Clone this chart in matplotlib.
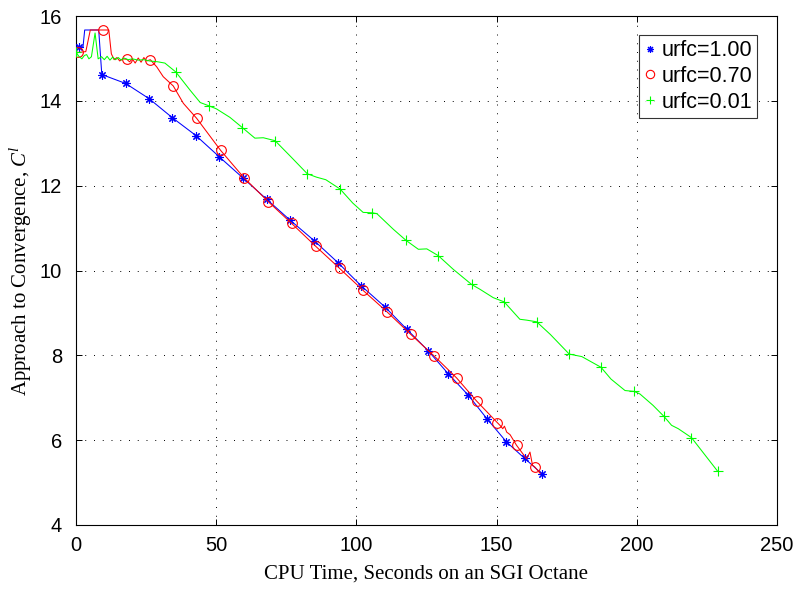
import numpy as np
import matplotlib
matplotlib.use('Agg')
import matplotlib.pyplot as plt
from matplotlib.lines import Line2D

plt.rcParams['font.family'] = 'Liberation Sans'
plt.rcParams['mathtext.fontset'] = 'custom'
plt.rcParams['mathtext.rm'] = 'Liberation Serif'
plt.rcParams['mathtext.it'] = 'Liberation Serif:italic'

# urfc = 1.00
t_a = [0, 1.0, 2.5, 3.1, 8.1, 9.2, 17.7, 26.1, 34.4, 42.8, 51.1, 59.4, 68.0, 76.3,
       85.0, 93.5, 101.7, 110.2, 117.9, 125.7, 132.7, 139.9, 146.5, 153.5, 160.0, 166.3]
c_a = [15.27, 15.27, 15.27, 15.67, 15.67, 14.62, 14.41, 14.05, 13.60, 13.18, 12.68, 12.19,
       11.68, 11.19, 10.70, 10.18, 9.64, 9.14, 8.62, 8.10, 7.57, 7.06, 6.51, 5.96, 5.57, 5.20]
mk_a = [1.0, 9.2, 17.7, 26.1, 34.4, 42.8, 51.1, 59.4, 68.0, 76.3, 85.0, 93.5, 101.7,
        110.2, 117.9, 125.7, 132.7, 139.9, 146.5, 153.5, 160.0, 166.3]

# urfc = 0.70
t_b = [0, 0.7, 3.5, 5.1, 9.5, 11.7, 12.6, 13.6, 14.6, 15.6, 16.6, 18.1, 19.1, 20.1,
       21.1, 22.2, 23.2, 24.2, 25.2, 26.5, 28.8, 31.1, 34.7, 38.3, 43.0, 51.6, 60.0,
       68.6, 76.9, 85.5, 94.0, 102.4, 111.0, 119.3, 127.8, 135.7, 142.9, 150.3, 151.2,
       152.2, 152.8, 153.6, 154.8, 157.1, 160.7, 161.9, 162.8, 163.6, 165.5]
c_b = [15.16, 15.14, 15.16, 15.67, 15.67, 15.67, 15.11, 14.97, 15.02, 14.94, 14.99,
       14.98, 14.92, 14.99, 14.89, 15.01, 14.91, 15.02, 14.94, 14.97, 14.80, 14.57,
       14.35, 13.94, 13.59, 12.83, 12.18, 11.62, 11.11, 10.57, 10.05, 9.53, 9.02, 8.50,
       7.98, 7.47, 6.92, 6.41, 6.35, 6.27, 6.33, 6.19, 6.13, 5.88, 5.56, 5.72, 5.41,
       5.37, 5.22]
mk_b = [0.7, 9.5, 18.1, 26.5, 34.7, 43.0, 51.6, 60.0, 68.6, 76.9, 85.5, 94.0, 102.4,
        111.0, 119.3, 127.8, 135.7, 142.9, 150.3, 157.1, 163.6]

# urfc = 0.01
t_c = [0, 1, 2.1, 3, 3.8, 4.6, 5.5, 6.8, 7.9, 9.1, 10.1, 11.1, 12.1, 13.1, 14.1, 15.1,
       16.1, 17.1, 18.6, 20.1, 22.2, 24.2, 26.2, 29.2, 31.7, 35.6, 40.7, 44.3, 47.5,
       50.1, 54.9, 59.3, 63.8, 66.8, 71.0, 76.5, 82.5, 85.8, 89.1, 94.2, 98.7, 102.4,
       105.7, 107.3, 113.2, 117.7, 122.1, 125.1, 129.2, 134.5, 141.1, 144.0, 148.8,
       152.7, 158.3, 160.7, 164.3, 169.2, 175.9, 180.4, 187.2, 190.8, 195.8, 199.0,
       201.1, 205.8, 209.7, 212.4, 214.8, 219.5, 228.8]
c_c = [15.15, 15.05, 14.99, 15.07, 15.09, 14.99, 15.04, 15.60, 14.99, 15.04, 14.97,
       15.05, 14.96, 15.03, 14.97, 15.02, 14.96, 15.01, 14.97, 14.99, 14.96, 14.97, 14.94,
       14.92, 14.89, 14.68, 14.25, 13.96, 13.88, 13.81, 13.61, 13.37, 13.12, 13.13,
       13.06, 12.69, 12.28, 12.20, 12.14, 11.92, 11.59, 11.37, 11.36, 11.34, 10.97,
       10.71, 10.50, 10.51, 10.35, 10.03, 9.67, 9.56, 9.36, 9.26, 8.85, 8.83, 8.79,
       8.49, 8.03, 7.97, 7.72, 7.44, 7.17, 7.15, 7.09, 6.82, 6.56, 6.35, 6.27, 6.06, 5.27]
mk_c = [0, 35.6, 47.5, 59.3, 71.0, 82.5, 94.2, 105.7, 117.7, 129.2, 141.1, 152.7,
        164.3, 175.9, 187.2, 199.0, 209.7, 219.5, 228.8]

labels = ['urfc=1.00', 'urfc=0.70', 'urfc=0.01']

fig = plt.figure(figsize=(7.98, 5.90), dpi=100)
ax = fig.add_axes([76/798, 65/590, 701/798, 509/590])

asterisk = (8, 2, 0)
series = [(t_a, c_a, mk_a, 'b', asterisk, 6),
          (t_b, c_b, mk_b, 'r', 'o', 7),
          (t_c, c_c, mk_c, (0, 1, 0), '+', 7)]
handles = []
for (t, c, mk, col, m, ms), lab in zip(series, labels):
    idx = list(np.where(np.isin(t, mk))[0])
    ax.plot(t, c, color=col, lw=0.75, marker=m, markevery=idx, ms=ms,
            mfc='none', mec=col, mew=0.8, zorder=3)
    handles.append(Line2D([], [], ls='none', marker=m, color=col, mfc='none',
                          mec=col, ms=ms - 1, mew=0.8, label=lab))

ax.set_xlim(0, 250)
ax.set_ylim(4, 16)
ax.set_xticks(np.arange(0, 251, 50))
ax.set_yticks(np.arange(4, 17, 2))
ax.grid(True, color='k', lw=0.7, ls=(0, (1, 8)))
ax.tick_params(direction='in', top=True, right=True, length=4, width=0.7,
               labelsize=14.5)
ax.tick_params(axis='x', pad=8)
ax.tick_params(axis='y', pad=10)
for s in ax.spines.values():
    s.set_linewidth(0.8)

ax.set_xlabel('CPU Time, Seconds on an SGI Octane', family='Liberation Serif',
              fontsize=15, labelpad=7)
ax.set_ylabel('Approach to Convergence, $C^l$', family='Liberation Serif',
              fontsize=15, labelpad=4)

leg = ax.legend(handles=handles, loc='upper right', bbox_to_anchor=(0.972, 0.963),
                fontsize=15.5, frameon=True, fancybox=False, handlelength=0.6,
                handletextpad=0.2, borderpad=0.25, labelspacing=0.22,
                borderaxespad=0)
leg.get_frame().set_edgecolor('k')
leg.get_frame().set_linewidth(0.8)

fig.savefig('out.png', dpi=100)
